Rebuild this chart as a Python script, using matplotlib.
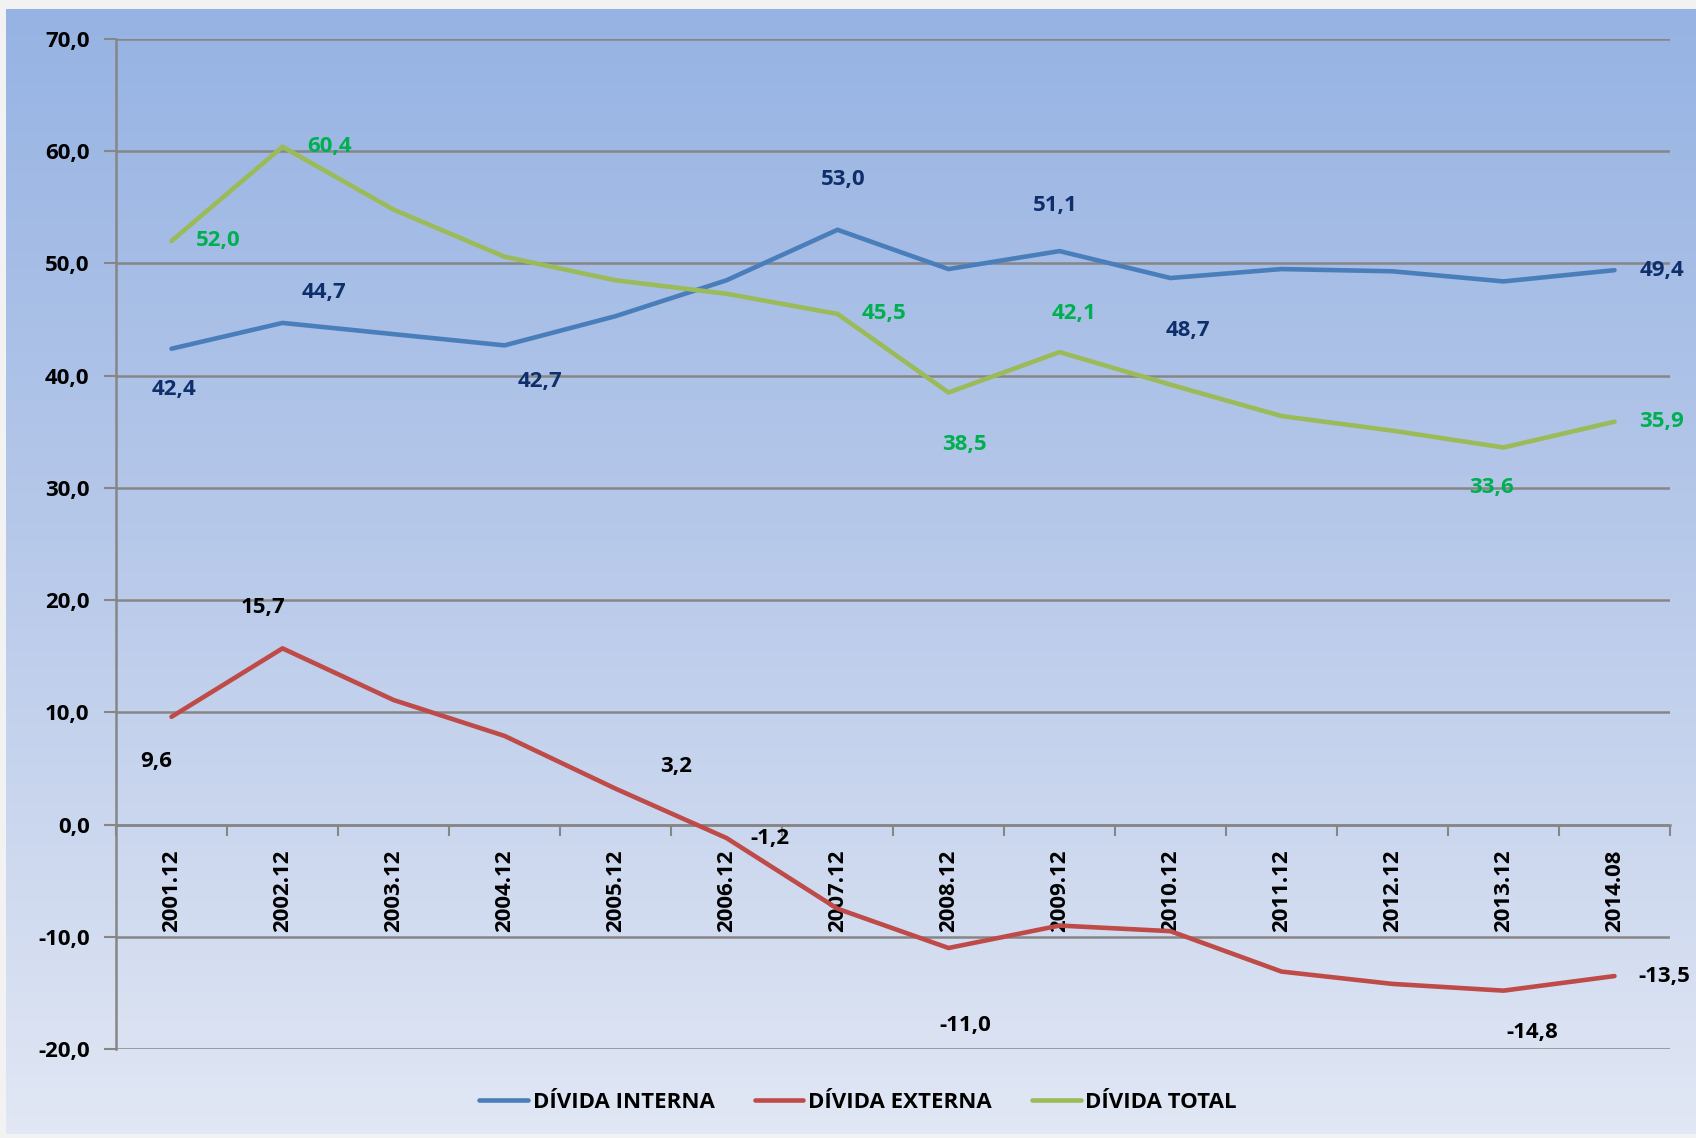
import numpy as np
import matplotlib
matplotlib.use('Agg')
import matplotlib.pyplot as plt
from matplotlib.colors import LinearSegmentedColormap

plt.rcParams['font.family'] = ['Open Sans', 'DejaVu Sans']
plt.rcParams['font.weight'] = 'bold'

# datos
periodos = ['2001.12', '2002.12', '2003.12', '2004.12', '2005.12', '2006.12', '2007.12',
            '2008.12', '2009.12', '2010.12', '2011.12', '2012.12', '2013.12', '2014.08']
interna = [42.4, 44.7, 43.7, 42.7, 45.3, 48.5, 53.0, 49.5, 51.1, 48.7, 49.5, 49.3, 48.4, 49.4]
externa = [9.6, 15.7, 11.1, 7.9, 3.2, -1.2, -7.5, -11.0, -9.0, -9.5, -13.1, -14.2, -14.8, -13.5]
total = [52.0, 60.4, 54.8, 50.6, 48.5, 47.3, 45.5, 38.5, 42.1, 39.2, 36.4, 35.1, 33.6, 35.9]
nombres = ['DÍVIDA INTERNA', 'DÍVIDA EXTERNA', 'DÍVIDA TOTAL']

# etiquetas mostradas: indice del punto -> desplazamiento (px)
etq_interna = {0: (2, -41), 1: (42, 30), 3: (35, -36), 6: (6, 50), 8: (-4, 46), 9: (17, -52), 13: (47, 0)}
etq_total = {0: (47, 0), 1: (47, 0), 6: (47, 0), 7: (16, -52), 8: (14, 39), 12: (-12, -40), 13: (47, 0)}
etq_externa = {0: (-15, -45), 1: (-19, 41), 4: (61, 22), 5: (43, 0), 7: (17, -77), 12: (29, -42), 13: (50, 0)}

c_int, c_ext, c_tot = '#4a7ebb', '#be4b48', '#9bbb59'
fs = 16

fig = plt.figure(figsize=(16.96, 11.38), dpi=100)
fig.patch.set_facecolor('#f2f2f2')

# fondo degradado
bg = fig.add_axes([6/1696, 4/1138, 1 - 6/1696, 1 - 13/1138])
cmap = LinearSegmentedColormap.from_list('fondo', ['#96b3e3', '#b9caea', '#e1e7f4'])
grad = np.linspace(0, 1, 256).reshape(-1, 1)
bg.imshow(grad, aspect='auto', cmap=cmap, extent=[0, 1, 0, 1])
bg.set_axis_off()

ax = fig.add_axes([116/1696, 1 - 1049/1138, (1670 - 116)/1696, (1049 - 39)/1138])
ax.patch.set_alpha(0)
x = np.arange(len(periodos))

l1, = ax.plot(x, interna, color=c_int, lw=3.3, solid_capstyle='round', zorder=3)
l2, = ax.plot(x, externa, color=c_ext, lw=3.3, solid_capstyle='round', zorder=3)
l3, = ax.plot(x, total, color=c_tot, lw=3.3, solid_capstyle='round', zorder=3)

def etiquetas(serie, etq, color):
    for i, (dx, dy) in etq.items():
        ax.annotate(f'{serie[i]:.1f}'.replace('.', ','), (x[i], serie[i]),
                    xytext=(dx, dy), textcoords='offset pixels',
                    ha='center', va='center', fontsize=fs, fontweight='bold', color=color)

etiquetas(interna, etq_interna, '#0f2f6b')
etiquetas(total, etq_total, '#00b050')
etiquetas(externa, etq_externa, 'black')

ax.set_ylim(-20, 70)
ax.set_xlim(-0.5, len(periodos) - 0.5)
ax.set_yticks(np.arange(-20, 71, 10))
ax.set_yticklabels([f'{v:.1f}'.replace('.', ',') for v in np.arange(-20, 71, 10)])
ax.yaxis.grid(True, color='#868686', lw=1.8)
ax.set_axisbelow(True)

ax.set_xticks(x)
ax.set_xticklabels(periodos)
ax.set_xticks(np.arange(-0.5, len(periodos), 1), minor=True)
ax.tick_params(axis='x', which='major', length=0, pad=18, labelsize=fs, labelrotation=90)
ax.tick_params(axis='x', which='minor', length=8, width=1.5, color='#868686', direction='out')
ax.tick_params(axis='y', length=9, width=1.5, color='#868686', pad=10, labelsize=fs)

for s in ['top', 'right']:
    ax.spines[s].set_visible(False)
ax.spines['bottom'].set_position(('data', 0))
ax.spines['bottom'].set_color('#868686')
ax.spines['bottom'].set_linewidth(1.8)
ax.spines['left'].set_color('#868686')
ax.spines['left'].set_linewidth(1.8)

fig.legend([l1, l2, l3], nombres, loc='center', bbox_to_anchor=(858/1696, 1 - 1102/1138),
           ncol=3, frameon=False, fontsize=fs, handlelength=2.2, handletextpad=0.2,
           columnspacing=1.8)

fig.savefig('out.png', dpi=100, facecolor=fig.get_facecolor())
